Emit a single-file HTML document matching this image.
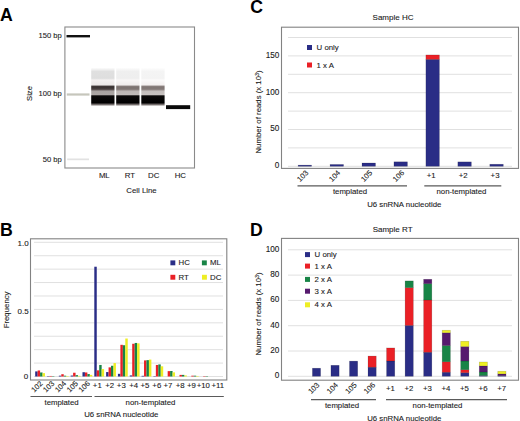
<!DOCTYPE html>
<html><head><meta charset="utf-8"><title>Figure</title>
<style>html,body{margin:0;padding:0;background:#fff;width:520px;height:421px;overflow:hidden}svg{display:block}</style>
</head><body>
<svg width="520" height="421" viewBox="0 0 520 421" font-family="'Liberation Sans', sans-serif" fill="#1a1a1a">
<style>text{stroke:#1a1a1a;stroke-width:0.1px}</style>
<defs><linearGradient id="gML" x1="0" y1="66" x2="0" y2="107" gradientUnits="userSpaceOnUse"><stop offset="0.0390" stop-color="#ffffff"/><stop offset="0.0854" stop-color="#f0f0f0"/><stop offset="0.1341" stop-color="#e0e0e0"/><stop offset="0.3000" stop-color="#dedede"/><stop offset="0.3415" stop-color="#f4f1f1"/><stop offset="0.4634" stop-color="#ece8e8"/><stop offset="0.4927" stop-color="#403838"/><stop offset="0.5366" stop-color="#3a3232"/><stop offset="0.5805" stop-color="#5e5454"/><stop offset="0.6098" stop-color="#a8a2a0"/><stop offset="0.7024" stop-color="#aca6a4"/><stop offset="0.7268" stop-color="#0c0a0a"/><stop offset="0.8927" stop-color="#000000"/><stop offset="0.9268" stop-color="#4a4444"/><stop offset="0.9561" stop-color="#a8a2a0"/><stop offset="0.9805" stop-color="#ffffff"/><stop offset="1.0000" stop-color="#ffffff"/></linearGradient><linearGradient id="gRT" x1="0" y1="66" x2="0" y2="107" gradientUnits="userSpaceOnUse"><stop offset="0.0390" stop-color="#ffffff"/><stop offset="0.0854" stop-color="#f6f6f6"/><stop offset="0.1341" stop-color="#efefef"/><stop offset="0.3000" stop-color="#eeeeee"/><stop offset="0.3415" stop-color="#f8f6f6"/><stop offset="0.4634" stop-color="#f0ecec"/><stop offset="0.4927" stop-color="#867c7a"/><stop offset="0.5366" stop-color="#7a706e"/><stop offset="0.5805" stop-color="#8c8280"/><stop offset="0.6098" stop-color="#bdb6b4"/><stop offset="0.7024" stop-color="#c2bcba"/><stop offset="0.7268" stop-color="#0c0a0a"/><stop offset="0.8927" stop-color="#000000"/><stop offset="0.9268" stop-color="#4a4444"/><stop offset="0.9561" stop-color="#a8a2a0"/><stop offset="0.9805" stop-color="#ffffff"/><stop offset="1.0000" stop-color="#ffffff"/></linearGradient><linearGradient id="gDC" x1="0" y1="66" x2="0" y2="107" gradientUnits="userSpaceOnUse"><stop offset="0.0390" stop-color="#ffffff"/><stop offset="0.0854" stop-color="#f9f9f9"/><stop offset="0.1341" stop-color="#f4f4f4"/><stop offset="0.3000" stop-color="#f3f3f3"/><stop offset="0.3415" stop-color="#fbfafa"/><stop offset="0.4634" stop-color="#f4f0f0"/><stop offset="0.4927" stop-color="#8a807e"/><stop offset="0.5366" stop-color="#7e7472"/><stop offset="0.5805" stop-color="#908684"/><stop offset="0.6098" stop-color="#c4bebc"/><stop offset="0.7024" stop-color="#c8c2c0"/><stop offset="0.7268" stop-color="#0c0a0a"/><stop offset="0.8927" stop-color="#000000"/><stop offset="0.9268" stop-color="#4a4444"/><stop offset="0.9561" stop-color="#a8a2a0"/><stop offset="0.9805" stop-color="#ffffff"/><stop offset="1.0000" stop-color="#ffffff"/></linearGradient></defs>
<rect x="0" y="0" width="520" height="421" fill="#fff"/>
<text x="0" y="21" font-size="17.7" font-weight="bold" fill="#000" style="stroke:none">A</text>
<text x="0" y="236.3" font-size="17.7" font-weight="bold" fill="#000" style="stroke:none">B</text>
<text x="250.2" y="13" font-size="17.7" font-weight="bold" fill="#000" style="stroke:none">C</text>
<text x="250" y="236.3" font-size="17.7" font-weight="bold" fill="#000" style="stroke:none">D</text>
<rect x="91.20" y="66.00" width="23.30" height="41.00" fill="url(#gML)" />
<rect x="116.20" y="66.00" width="23.30" height="41.00" fill="url(#gRT)" />
<rect x="141.30" y="66.00" width="23.30" height="41.00" fill="url(#gDC)" />
<rect x="66.50" y="35.00" width="23.50" height="2.40" fill="#111" />
<rect x="66.80" y="93.40" width="22.70" height="2.20" fill="#c6c6bc" />
<rect x="67.20" y="158.50" width="21.80" height="1.70" fill="#e2e2e2" />
<rect x="166.00" y="105.20" width="24.20" height="3.90" fill="#0a0a0a" />
<rect x="64.9" y="27" width="129.6" height="141" fill="none" stroke="#8a8a8a" stroke-width="1.1"/>
<text x="61.8" y="37.8" text-anchor="end" font-size="7.6" >150 bp</text>
<text x="61.8" y="96.2" text-anchor="end" font-size="7.6" >100 bp</text>
<text x="61.8" y="161.5" text-anchor="end" font-size="7.6" >50 bp</text>
<text x="0" y="0" text-anchor="middle" font-size="7.6" transform="translate(32,93.5) rotate(-90)">Size</text>
<text x="104.3" y="177.6" text-anchor="middle" font-size="7.8" >ML</text>
<text x="129.9" y="177.6" text-anchor="middle" font-size="7.8" >RT</text>
<text x="153.7" y="177.6" text-anchor="middle" font-size="7.8" >DC</text>
<text x="180.3" y="177.6" text-anchor="middle" font-size="7.8" >HC</text>
<text x="141.5" y="192.6" text-anchor="middle" font-size="7.8" >Cell Line</text>
<line x1="34" y1="363.08" x2="223" y2="363.08" stroke="#e0e0e0" stroke-width="1"/>
<line x1="34" y1="349.66" x2="223" y2="349.66" stroke="#e0e0e0" stroke-width="1"/>
<line x1="34" y1="336.24" x2="223" y2="336.24" stroke="#e0e0e0" stroke-width="1"/>
<line x1="34" y1="322.82" x2="223" y2="322.82" stroke="#e0e0e0" stroke-width="1"/>
<line x1="34" y1="309.4" x2="223" y2="309.4" stroke="#e0e0e0" stroke-width="1"/>
<line x1="34" y1="295.98" x2="223" y2="295.98" stroke="#e0e0e0" stroke-width="1"/>
<line x1="34" y1="282.56" x2="223" y2="282.56" stroke="#e0e0e0" stroke-width="1"/>
<line x1="34" y1="269.14" x2="223" y2="269.14" stroke="#e0e0e0" stroke-width="1"/>
<line x1="34" y1="255.72000000000003" x2="223" y2="255.72000000000003" stroke="#e0e0e0" stroke-width="1"/>
<line x1="34" y1="242.3" x2="223" y2="242.3" stroke="#e0e0e0" stroke-width="1"/>
<line x1="34" y1="376.5" x2="223" y2="376.5" stroke="#e0e0e0" stroke-width="1"/>
<rect x="35.20" y="371.40" width="2.45" height="5.10" fill="#2a2d86" />
<rect x="37.65" y="370.46" width="2.45" height="6.04" fill="#ea2026" />
<rect x="40.10" y="372.47" width="2.45" height="4.03" fill="#188446" />
<rect x="42.55" y="373.14" width="2.45" height="3.35" fill="#eeee24" />
<rect x="47.02" y="376.10" width="2.45" height="0.40" fill="#2a2d86" />
<rect x="49.47" y="375.96" width="2.45" height="0.54" fill="#ea2026" />
<rect x="51.92" y="376.10" width="2.45" height="0.40" fill="#188446" />
<rect x="58.84" y="375.69" width="2.45" height="0.81" fill="#2a2d86" />
<rect x="61.29" y="374.22" width="2.45" height="2.28" fill="#ea2026" />
<rect x="63.74" y="375.69" width="2.45" height="0.81" fill="#188446" />
<rect x="66.19" y="375.96" width="2.45" height="0.54" fill="#eeee24" />
<rect x="70.66" y="375.56" width="2.45" height="0.94" fill="#2a2d86" />
<rect x="73.11" y="372.74" width="2.45" height="3.76" fill="#ea2026" />
<rect x="75.56" y="375.16" width="2.45" height="1.34" fill="#188446" />
<rect x="78.01" y="375.83" width="2.45" height="0.67" fill="#eeee24" />
<rect x="82.48" y="372.21" width="2.45" height="4.29" fill="#2a2d86" />
<rect x="84.93" y="372.47" width="2.45" height="4.03" fill="#ea2026" />
<rect x="87.38" y="374.08" width="2.45" height="2.42" fill="#188446" />
<rect x="89.83" y="374.89" width="2.45" height="1.61" fill="#eeee24" />
<rect x="94.30" y="266.72" width="2.45" height="109.78" fill="#2a2d86" />
<rect x="96.75" y="370.33" width="2.45" height="6.17" fill="#ea2026" />
<rect x="99.20" y="364.96" width="2.45" height="11.54" fill="#188446" />
<rect x="101.65" y="369.12" width="2.45" height="7.38" fill="#eeee24" />
<rect x="106.12" y="372.07" width="2.45" height="4.43" fill="#2a2d86" />
<rect x="108.57" y="367.37" width="2.45" height="9.13" fill="#ea2026" />
<rect x="111.02" y="365.76" width="2.45" height="10.74" fill="#188446" />
<rect x="113.47" y="363.08" width="2.45" height="13.42" fill="#eeee24" />
<rect x="117.94" y="373.82" width="2.45" height="2.68" fill="#2a2d86" />
<rect x="120.39" y="344.83" width="2.45" height="31.67" fill="#ea2026" />
<rect x="122.84" y="345.23" width="2.45" height="31.27" fill="#188446" />
<rect x="125.29" y="338.52" width="2.45" height="37.98" fill="#eeee24" />
<rect x="129.76" y="375.43" width="2.45" height="1.07" fill="#2a2d86" />
<rect x="132.21" y="343.76" width="2.45" height="32.74" fill="#ea2026" />
<rect x="134.66" y="342.95" width="2.45" height="33.55" fill="#188446" />
<rect x="137.11" y="343.35" width="2.45" height="33.15" fill="#eeee24" />
<rect x="141.58" y="375.83" width="2.45" height="0.67" fill="#2a2d86" />
<rect x="144.03" y="360.40" width="2.45" height="16.10" fill="#ea2026" />
<rect x="146.48" y="360.13" width="2.45" height="16.37" fill="#188446" />
<rect x="148.93" y="359.59" width="2.45" height="16.91" fill="#eeee24" />
<rect x="153.40" y="376.10" width="2.45" height="0.40" fill="#2a2d86" />
<rect x="155.85" y="364.96" width="2.45" height="11.54" fill="#ea2026" />
<rect x="158.30" y="364.42" width="2.45" height="12.08" fill="#188446" />
<rect x="160.75" y="366.30" width="2.45" height="10.20" fill="#eeee24" />
<rect x="167.67" y="371.13" width="2.45" height="5.37" fill="#ea2026" />
<rect x="170.12" y="371.00" width="2.45" height="5.50" fill="#188446" />
<rect x="172.57" y="372.34" width="2.45" height="4.16" fill="#eeee24" />
<rect x="179.49" y="374.89" width="2.45" height="1.61" fill="#ea2026" />
<rect x="181.94" y="374.89" width="2.45" height="1.61" fill="#188446" />
<rect x="184.39" y="375.43" width="2.45" height="1.07" fill="#eeee24" />
<rect x="191.31" y="375.69" width="2.45" height="0.81" fill="#ea2026" />
<rect x="193.76" y="375.69" width="2.45" height="0.81" fill="#188446" />
<rect x="196.21" y="375.96" width="2.45" height="0.54" fill="#eeee24" />
<rect x="203.13" y="376.10" width="2.45" height="0.40" fill="#ea2026" />
<rect x="205.58" y="376.10" width="2.45" height="0.40" fill="#188446" />
<rect x="30.5" y="238.8" width="196.3" height="141.2" fill="none" stroke="#828282" stroke-width="1.1"/>
<text x="28.6" y="246.0" text-anchor="end" font-size="8" >1.0</text>
<text x="28.6" y="313.5" text-anchor="end" font-size="8" >0.5</text>
<text x="28.2" y="378.8" text-anchor="end" font-size="8" >0</text>
<text x="0" y="0" text-anchor="middle" font-size="7.8" transform="translate(9.3,309.9) rotate(-90)">Frequency</text>
<rect x="170.40" y="260.40" width="4.90" height="4.90" fill="#2a2d86" />
<text x="178.5" y="265.4" text-anchor="start" font-size="7.8" >HC</text>
<rect x="201.90" y="260.40" width="4.90" height="4.90" fill="#188446" />
<text x="210.0" y="265.4" text-anchor="start" font-size="7.8" >ML</text>
<rect x="170.40" y="274.80" width="4.90" height="4.90" fill="#ea2026" />
<text x="178.5" y="279.8" text-anchor="start" font-size="7.8" >RT</text>
<rect x="202.00" y="274.80" width="4.90" height="4.90" fill="#eeee24" />
<text x="210.1" y="279.8" text-anchor="start" font-size="7.8" >DC</text>
<text x="0" y="0" text-anchor="end" font-size="7.5" transform="translate(43.1,384.0) rotate(-45)">102</text>
<text x="0" y="0" text-anchor="end" font-size="7.5" transform="translate(54.92,384.0) rotate(-45)">103</text>
<text x="0" y="0" text-anchor="end" font-size="7.5" transform="translate(66.74000000000001,384.0) rotate(-45)">104</text>
<text x="0" y="0" text-anchor="end" font-size="7.5" transform="translate(78.56,384.0) rotate(-45)">105</text>
<text x="0" y="0" text-anchor="end" font-size="7.5" transform="translate(90.38000000000001,384.0) rotate(-45)">106</text>
<text x="97.3" y="387.6" text-anchor="middle" font-size="7.8" >+1</text>
<text x="109.7" y="387.6" text-anchor="middle" font-size="7.8" >+2</text>
<text x="121.3" y="387.6" text-anchor="middle" font-size="7.8" >+3</text>
<text x="133.7" y="387.6" text-anchor="middle" font-size="7.8" >+4</text>
<text x="145.0" y="387.6" text-anchor="middle" font-size="7.8" >+5</text>
<text x="156.8" y="387.6" text-anchor="middle" font-size="7.8" >+6</text>
<text x="168.0" y="387.6" text-anchor="middle" font-size="7.8" >+7</text>
<text x="180.2" y="387.6" text-anchor="middle" font-size="7.8" >+8</text>
<text x="191.4" y="387.6" text-anchor="middle" font-size="7.8" >+9</text>
<text x="203.3" y="387.6" text-anchor="middle" font-size="7.8" >+10</text>
<text x="217.9" y="387.6" text-anchor="middle" font-size="7.8" >+11</text>
<line x1="30.5" y1="396.5" x2="92" y2="396.5" stroke="#5a5a5a" stroke-width="1.2"/>
<line x1="94.5" y1="396.5" x2="223.8" y2="396.5" stroke="#5a5a5a" stroke-width="1.2"/>
<text x="61.6" y="405.0" text-anchor="middle" font-size="7.8" >templated</text>
<text x="150.5" y="405.0" text-anchor="middle" font-size="7.8" >non-templated</text>
<text x="121.3" y="417.3" text-anchor="middle" font-size="7.8" >U6 snRNA nucleotide</text>
<line x1="288" y1="166.3" x2="512" y2="166.3" stroke="#e0e0e0" stroke-width="1"/>
<line x1="288" y1="147.9" x2="512" y2="147.9" stroke="#e0e0e0" stroke-width="1"/>
<line x1="288" y1="129.5" x2="512" y2="129.5" stroke="#e0e0e0" stroke-width="1"/>
<line x1="288" y1="111.10000000000002" x2="512" y2="111.10000000000002" stroke="#e0e0e0" stroke-width="1"/>
<line x1="288" y1="92.70000000000002" x2="512" y2="92.70000000000002" stroke="#e0e0e0" stroke-width="1"/>
<line x1="288" y1="74.30000000000001" x2="512" y2="74.30000000000001" stroke="#e0e0e0" stroke-width="1"/>
<line x1="288" y1="55.90000000000002" x2="512" y2="55.90000000000002" stroke="#e0e0e0" stroke-width="1"/>
<line x1="288" y1="37.5" x2="512" y2="37.5" stroke="#e0e0e0" stroke-width="1"/>
<rect x="298.10" y="165.12" width="13.50" height="1.18" fill="#2a2d86" stroke="#000" stroke-opacity="0.22" stroke-width="0.6"/>
<rect x="330.05" y="164.46" width="13.50" height="1.84" fill="#2a2d86" stroke="#000" stroke-opacity="0.22" stroke-width="0.6"/>
<rect x="362.00" y="162.99" width="13.50" height="3.31" fill="#2a2d86" stroke="#000" stroke-opacity="0.22" stroke-width="0.6"/>
<rect x="393.95" y="161.81" width="13.50" height="4.49" fill="#2a2d86" stroke="#000" stroke-opacity="0.22" stroke-width="0.6"/>
<rect x="425.90" y="59.36" width="13.50" height="106.94" fill="#2a2d86" stroke="#000" stroke-opacity="0.22" stroke-width="0.6"/>
<rect x="425.90" y="54.94" width="13.50" height="4.42" fill="#ea2026" stroke="#000" stroke-opacity="0.22" stroke-width="0.6"/>
<rect x="457.85" y="161.88" width="13.50" height="4.42" fill="#2a2d86" stroke="#000" stroke-opacity="0.22" stroke-width="0.6"/>
<rect x="489.80" y="164.24" width="13.50" height="2.06" fill="#2a2d86" stroke="#000" stroke-opacity="0.22" stroke-width="0.6"/>
<rect x="281.5" y="27.2" width="237.0" height="141.20000000000002" fill="none" stroke="#828282" stroke-width="1.1"/>
<text x="279.3" y="168.0" text-anchor="end" font-size="8.2" >0</text>
<text x="279.3" y="130.75" text-anchor="end" font-size="8.2" >50</text>
<text x="279.3" y="94.75" text-anchor="end" font-size="8.2" >100</text>
<text x="279.3" y="57.75" text-anchor="end" font-size="8.2" >150</text>
<text x="0" y="0" text-anchor="middle" font-size="7.8" transform="translate(261.3,111.9) rotate(-90)">Number of reads (x 10<tspan dy="-2.5" font-size="5.5">3</tspan><tspan dy="2.5">)</tspan></text>
<text x="393" y="20.4" text-anchor="middle" font-size="8" >Sample HC</text>
<rect x="307.00" y="45.00" width="5.00" height="5.00" fill="#2a2d86" />
<text x="316.6" y="49.9" text-anchor="start" font-size="7.8" >U only</text>
<rect x="307.00" y="62.50" width="5.00" height="5.00" fill="#ea2026" />
<text x="316.6" y="67.9" text-anchor="start" font-size="7.8" >1 x A</text>
<text x="0" y="0" text-anchor="end" font-size="7.5" transform="translate(308.85,173.4) rotate(-45)">103</text>
<text x="0" y="0" text-anchor="end" font-size="7.5" transform="translate(340.8,173.4) rotate(-45)">104</text>
<text x="0" y="0" text-anchor="end" font-size="7.5" transform="translate(372.75,173.4) rotate(-45)">105</text>
<text x="0" y="0" text-anchor="end" font-size="7.5" transform="translate(404.70000000000005,173.4) rotate(-45)">106</text>
<text x="431.15000000000003" y="178.4" text-anchor="middle" font-size="7.8" >+1</text>
<text x="463.1" y="178.4" text-anchor="middle" font-size="7.8" >+2</text>
<text x="495.05" y="178.4" text-anchor="middle" font-size="7.8" >+3</text>
<line x1="297.5" y1="185.8" x2="407" y2="185.8" stroke="#5a5a5a" stroke-width="1.2"/>
<line x1="424.3" y1="185.8" x2="501.3" y2="185.8" stroke="#5a5a5a" stroke-width="1.2"/>
<text x="350" y="193.8" text-anchor="middle" font-size="7.8" >templated</text>
<text x="461.4" y="193.8" text-anchor="middle" font-size="7.8" >non-templated</text>
<text x="404.3" y="206.7" text-anchor="middle" font-size="7.8" >U6 snRNA nucleotide</text>
<line x1="288" y1="376.3" x2="512" y2="376.3" stroke="#e0e0e0" stroke-width="1"/>
<line x1="288" y1="351.0" x2="512" y2="351.0" stroke="#e0e0e0" stroke-width="1"/>
<line x1="288" y1="325.70000000000005" x2="512" y2="325.70000000000005" stroke="#e0e0e0" stroke-width="1"/>
<line x1="288" y1="300.40000000000003" x2="512" y2="300.40000000000003" stroke="#e0e0e0" stroke-width="1"/>
<line x1="288" y1="275.1" x2="512" y2="275.1" stroke="#e0e0e0" stroke-width="1"/>
<line x1="288" y1="249.8" x2="512" y2="249.8" stroke="#e0e0e0" stroke-width="1"/>
<rect x="312.40" y="368.20" width="8.20" height="8.10" fill="#2a2d86" stroke="#000" stroke-opacity="0.22" stroke-width="0.6"/>
<rect x="330.94" y="365.29" width="8.20" height="11.01" fill="#2a2d86" stroke="#000" stroke-opacity="0.22" stroke-width="0.6"/>
<rect x="349.48" y="361.12" width="8.20" height="15.18" fill="#2a2d86" stroke="#000" stroke-opacity="0.22" stroke-width="0.6"/>
<rect x="368.02" y="367.19" width="8.20" height="9.11" fill="#2a2d86" stroke="#000" stroke-opacity="0.22" stroke-width="0.6"/>
<rect x="368.02" y="356.06" width="8.20" height="11.13" fill="#ea2026" stroke="#000" stroke-opacity="0.22" stroke-width="0.6"/>
<rect x="386.56" y="360.99" width="8.20" height="15.31" fill="#2a2d86" stroke="#000" stroke-opacity="0.22" stroke-width="0.6"/>
<rect x="386.56" y="347.96" width="8.20" height="13.03" fill="#ea2026" stroke="#000" stroke-opacity="0.22" stroke-width="0.6"/>
<rect x="405.10" y="325.45" width="8.20" height="50.85" fill="#2a2d86" stroke="#000" stroke-opacity="0.22" stroke-width="0.6"/>
<rect x="405.10" y="287.62" width="8.20" height="37.82" fill="#ea2026" stroke="#000" stroke-opacity="0.22" stroke-width="0.6"/>
<rect x="405.10" y="280.92" width="8.20" height="6.70" fill="#188446" stroke="#000" stroke-opacity="0.22" stroke-width="0.6"/>
<rect x="423.64" y="352.26" width="8.20" height="24.03" fill="#2a2d86" stroke="#000" stroke-opacity="0.22" stroke-width="0.6"/>
<rect x="423.64" y="300.02" width="8.20" height="52.24" fill="#ea2026" stroke="#000" stroke-opacity="0.22" stroke-width="0.6"/>
<rect x="423.64" y="283.70" width="8.20" height="16.32" fill="#188446" stroke="#000" stroke-opacity="0.22" stroke-width="0.6"/>
<rect x="423.64" y="279.27" width="8.20" height="4.43" fill="#561a6e" stroke="#000" stroke-opacity="0.22" stroke-width="0.6"/>
<rect x="442.18" y="372.25" width="8.20" height="4.05" fill="#2a2d86" stroke="#000" stroke-opacity="0.22" stroke-width="0.6"/>
<rect x="442.18" y="361.75" width="8.20" height="10.50" fill="#ea2026" stroke="#000" stroke-opacity="0.22" stroke-width="0.6"/>
<rect x="442.18" y="345.56" width="8.20" height="16.19" fill="#188446" stroke="#000" stroke-opacity="0.22" stroke-width="0.6"/>
<rect x="442.18" y="332.78" width="8.20" height="12.78" fill="#561a6e" stroke="#000" stroke-opacity="0.22" stroke-width="0.6"/>
<rect x="442.18" y="330.25" width="8.20" height="2.53" fill="#eeee24" stroke="#000" stroke-opacity="0.22" stroke-width="0.6"/>
<rect x="460.72" y="372.69" width="8.20" height="3.61" fill="#2a2d86" stroke="#000" stroke-opacity="0.22" stroke-width="0.6"/>
<rect x="460.72" y="369.72" width="8.20" height="2.97" fill="#ea2026" stroke="#000" stroke-opacity="0.22" stroke-width="0.6"/>
<rect x="460.72" y="360.99" width="8.20" height="8.73" fill="#188446" stroke="#000" stroke-opacity="0.22" stroke-width="0.6"/>
<rect x="460.72" y="346.57" width="8.20" height="14.42" fill="#561a6e" stroke="#000" stroke-opacity="0.22" stroke-width="0.6"/>
<rect x="460.72" y="341.26" width="8.20" height="5.31" fill="#eeee24" stroke="#000" stroke-opacity="0.22" stroke-width="0.6"/>
<rect x="479.26" y="375.54" width="8.20" height="0.76" fill="#2a2d86" stroke="#000" stroke-opacity="0.22" stroke-width="0.6"/>
<rect x="479.26" y="372.00" width="8.20" height="3.54" fill="#188446" stroke="#000" stroke-opacity="0.22" stroke-width="0.6"/>
<rect x="479.26" y="365.93" width="8.20" height="6.07" fill="#561a6e" stroke="#000" stroke-opacity="0.22" stroke-width="0.6"/>
<rect x="479.26" y="362.01" width="8.20" height="3.92" fill="#eeee24" stroke="#000" stroke-opacity="0.22" stroke-width="0.6"/>
<rect x="497.80" y="375.67" width="8.20" height="0.63" fill="#2a2d86" stroke="#000" stroke-opacity="0.22" stroke-width="0.6"/>
<rect x="497.80" y="373.90" width="8.20" height="1.77" fill="#561a6e" stroke="#000" stroke-opacity="0.22" stroke-width="0.6"/>
<rect x="497.80" y="371.24" width="8.20" height="2.66" fill="#eeee24" stroke="#000" stroke-opacity="0.22" stroke-width="0.6"/>
<rect x="281.5" y="238.4" width="237.0" height="141.79999999999998" fill="none" stroke="#828282" stroke-width="1.1"/>
<text x="279.3" y="378.1" text-anchor="end" font-size="8.2" >0</text>
<text x="279.3" y="352.8" text-anchor="end" font-size="8.2" >20</text>
<text x="279.3" y="327.50000000000006" text-anchor="end" font-size="8.2" >40</text>
<text x="279.3" y="302.20000000000005" text-anchor="end" font-size="8.2" >60</text>
<text x="279.3" y="276.90000000000003" text-anchor="end" font-size="8.2" >80</text>
<text x="279.3" y="251.60000000000002" text-anchor="end" font-size="8.2" >100</text>
<text x="0" y="0" text-anchor="middle" font-size="7.8" transform="translate(261.3,313.9) rotate(-90)">Number of reads (x 10<tspan dy="-2.5" font-size="5.5">3</tspan><tspan dy="2.5">)</tspan></text>
<text x="392.6" y="232.0" text-anchor="middle" font-size="8" >Sample RT</text>
<rect x="305.00" y="252.10" width="5.00" height="5.00" fill="#2a2d86" />
<text x="314.6" y="257.0" text-anchor="start" font-size="7.8" >U only</text>
<rect x="305.00" y="263.60" width="5.00" height="5.00" fill="#ea2026" />
<text x="314.6" y="268.5" text-anchor="start" font-size="7.8" >1 x A</text>
<rect x="305.00" y="276.90" width="5.00" height="5.00" fill="#188446" />
<text x="314.6" y="281.79999999999995" text-anchor="start" font-size="7.8" >2 x A</text>
<rect x="305.00" y="288.70" width="5.00" height="5.00" fill="#561a6e" />
<text x="314.6" y="293.59999999999997" text-anchor="start" font-size="7.8" >3 x A</text>
<rect x="305.00" y="302.30" width="5.00" height="5.00" fill="#eeee24" />
<text x="314.6" y="307.2" text-anchor="start" font-size="7.8" >4 x A</text>
<text x="0" y="0" text-anchor="end" font-size="7.5" transform="translate(320.0,385.5) rotate(-45)">103</text>
<text x="0" y="0" text-anchor="end" font-size="7.5" transform="translate(338.54,385.5) rotate(-45)">104</text>
<text x="0" y="0" text-anchor="end" font-size="7.5" transform="translate(357.08,385.5) rotate(-45)">105</text>
<text x="0" y="0" text-anchor="end" font-size="7.5" transform="translate(375.62,385.5) rotate(-45)">106</text>
<text x="390.36" y="390.5" text-anchor="middle" font-size="7.8" >+1</text>
<text x="408.90000000000003" y="390.5" text-anchor="middle" font-size="7.8" >+2</text>
<text x="427.44000000000005" y="390.5" text-anchor="middle" font-size="7.8" >+3</text>
<text x="445.98" y="390.5" text-anchor="middle" font-size="7.8" >+4</text>
<text x="464.52000000000004" y="390.5" text-anchor="middle" font-size="7.8" >+5</text>
<text x="483.06000000000006" y="390.5" text-anchor="middle" font-size="7.8" >+6</text>
<text x="501.6" y="390.5" text-anchor="middle" font-size="7.8" >+7</text>
<line x1="311" y1="399.6" x2="376" y2="399.6" stroke="#5a5a5a" stroke-width="1.2"/>
<line x1="386" y1="399.6" x2="507" y2="399.6" stroke="#5a5a5a" stroke-width="1.2"/>
<text x="342" y="407.6" text-anchor="middle" font-size="7.8" >templated</text>
<text x="437.5" y="407.6" text-anchor="middle" font-size="7.8" >non-templated</text>
<text x="404.3" y="420.5" text-anchor="middle" font-size="7.8" >U6 snRNA nucleotide</text>
</svg>
</body></html>
